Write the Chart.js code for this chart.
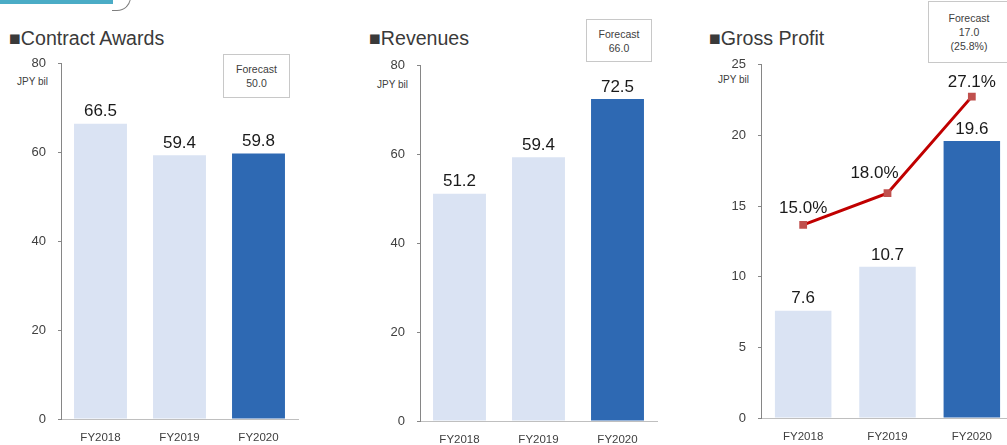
<!DOCTYPE html>
<html>
<head>
<meta charset="utf-8">
<script src="https://cdn.jsdelivr.net/npm/chart.js@4"></script>
<style>
  html, body { margin: 0; padding: 0; background: #fff; }
  body { width: 1007px; height: 445px; position: relative; overflow: hidden;
         font-family: "Liberation Sans", Arial, sans-serif; color: #404040; }
  .box { position: absolute; }
  .title { position: absolute; font-size: 19.6px; color: #3a3a3a; white-space: nowrap; }
  .unit { position: absolute; font-size: 10px; color: #404040; white-space: nowrap; }
  .forecast { position: absolute; border: 1.5px solid #c8c8c8; box-sizing: border-box;
              font-size: 10.5px; line-height: 14px; text-align: center; color: #404040;
              display: flex; flex-direction: column; justify-content: center; }
  .deco-bar { position: absolute; left: 0; top: 0; width: 113px; height: 4px; background: #4bacc6; }
  .deco-curve { position: absolute; left: 112px; top: -8px; width: 18px; height: 18px;
                border-right: 1.5px solid #7f7f7f; border-bottom: 1.5px solid #7f7f7f;
                border-bottom-right-radius: 14px; }
</style>
</head>
<body>
<div class="deco-bar"></div>
<div class="deco-curve"></div>

<div class="title" style="left:9px; top:27px;">■Contract Awards</div>
<div class="title" style="left:369px; top:27px;">■Revenues</div>
<div class="title" style="left:709px; top:27px;">■Gross Profit</div>

<div class="unit" style="left:17px; top:76px;">JPY bil</div>
<div class="unit" style="left:377px; top:79px;">JPY bil</div>
<div class="unit" style="left:718px; top:74px;">JPY bil</div>

<div class="forecast" id="fc1" style="left:223px; top:54px; width:67px; height:44px;"></div>
<div class="forecast" id="fc2" style="left:586px; top:19px; width:66px; height:43px;"></div>
<div class="forecast" id="fc3" style="left:928px; top:1px; width:82px; height:62px;"></div>

<div class="box" style="left:0px; top:44px; width:310px; height:401px;"><canvas id="c1"></canvas></div>
<div class="box" style="left:359px; top:46px; width:310px; height:401px;"><canvas id="c2"></canvas></div>
<div class="box" style="left:700px; top:45px; width:320px; height:399px;"><canvas id="c3"></canvas></div>

<script>
// data
const years = ["FY2018", "FY2019", "FY2020"];
const contractAwards = [66.5, 59.4, 59.8];
const revenues = [51.2, 59.4, 72.5];
const grossProfit = [7.6, 10.7, 19.6];
const grossMargin = [15.0, 18.0, 27.1];
const forecastAwards = ["Forecast", "50.0"];
const forecastRevenues = ["Forecast", "66.0"];
const forecastProfit = ["Forecast", "17.0", "(25.8%)"];

const barColors = ["#dae3f3", "#dae3f3", "#2e69b3"];
const tickColor = "#404040";

[["fc1", forecastAwards], ["fc2", forecastRevenues], ["fc3", forecastProfit]].forEach(([id, lines]) => {
  document.getElementById(id).innerHTML = lines.map(t => "<div>" + t + "</div>").join("");
});

// draws the value text above each bar / point
const valueLabels = {
  id: "valueLabels",
  afterDatasetsDraw(chart) {
    const ctx = chart.ctx;
    chart.data.datasets.forEach((ds, i) => {
      const meta = chart.getDatasetMeta(i);
      ctx.save();
      ctx.font = "17px 'Liberation Sans', Arial, sans-serif";
      ctx.fillStyle = "#1a1a1a";
      ctx.textAlign = "center";
      ctx.textBaseline = "middle";
      meta.data.forEach((el, j) => {
        const txt = ds.fmt(ds.data[j]);
        const dx = ds.labelDx ? ds.labelDx[j] : 0;
        const dy = Array.isArray(ds.labelDy) ? ds.labelDy[j] : ds.labelDy;
        ctx.fillText(txt, el.x + dx, el.y - dy);
      });
      ctx.restore();
    });
  }
};

function makeChart(id, values, max, step, extra, padRight) {
  const datasets = [{
    type: "bar",
    data: values,
    backgroundColor: barColors,
    categoryPercentage: 1,
    barPercentage: 0.67,
    order: 1,
    labelDy: 12,
    fmt: v => v.toFixed(1)
  }];
  if (extra) datasets.push(extra);
  const scales = {
    x: {
      grid: { display: false, drawTicks: false },
      border: { color: "#bfbfbf", width: 1 },
      ticks: { color: tickColor, padding: 12, font: { size: 11.5, family: "'Liberation Sans', Arial, sans-serif" } },
      afterFit: s => { s.height = 26; }
    },
    y: {
      min: 0, max: max,
      grid: { display: true, drawOnChartArea: false, drawTicks: true, tickLength: 3, color: "#868686" },
      border: { color: "#868686", width: 1 },
      ticks: { stepSize: step, color: tickColor, padding: 12, font: { size: 13, family: "'Liberation Sans', Arial, sans-serif" } },
      afterFit: s => { s.width = 61; }
    }
  };
  if (extra) {
    scales.y1 = { display: false, min: -3.2, max: 30.1 };
  }
  return new Chart(document.getElementById(id), {
    data: { labels: years, datasets: datasets },
    options: {
      responsive: true,
      maintainAspectRatio: false,
      animation: false,
      layout: { padding: { top: 8, right: padRight, left: 0, bottom: 0 } },
      plugins: { legend: { display: false }, tooltip: { enabled: false } },
      scales: scales
    },
    plugins: [valueLabels]
  });
}

makeChart("c1", contractAwards, 80, 20, null, 12);
makeChart("c2", revenues, 80, 20, null, 12);
makeChart("c3", grossProfit, 25, 5, {
  type: "line",
  data: grossMargin,
  yAxisID: "y1",
  borderColor: "#c00000",
  borderWidth: 3,
  pointStyle: "rect",
  pointRadius: 5.5,
  pointBackgroundColor: "#c0504d",
  pointBorderColor: "#c0504d",
  pointBorderWidth: 0,
  tension: 0,
  order: 0,
  labelDy: [17, 20, 14],
  labelDx: [0, -13, 0],
  fmt: v => v.toFixed(1) + "%"
}, 6);
</script>
</body>
</html>
